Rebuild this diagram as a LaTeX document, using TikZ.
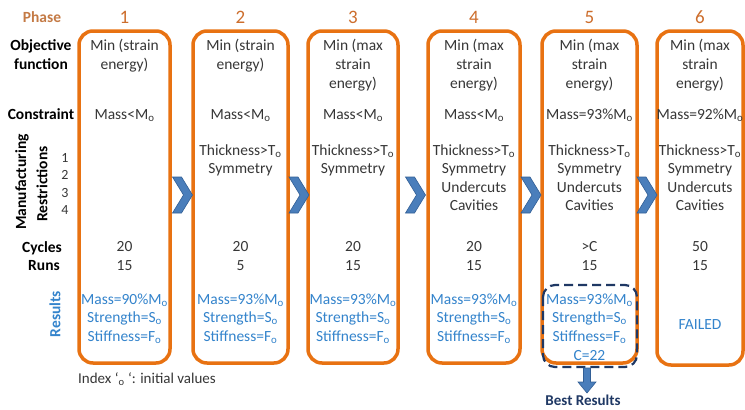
\documentclass[tikz,border=0pt]{standalone}
\usepackage{fontspec}
\setmainfont{Carlito}
\usetikzlibrary{calc}
\definecolor{boxorange}{RGB}{232,114,18}
\definecolor{phasebrown}{RGB}{196,122,69}
\definecolor{numorange}{RGB}{205,110,45}
\definecolor{txtgray}{RGB}{55,55,55}
\definecolor{resblue}{RGB}{52,132,204}
\definecolor{chevfill}{RGB}{74,126,187}
\definecolor{chevline}{RGB}{50,95,150}
\definecolor{navy}{RGB}{31,56,100}
\newcommand{\oidx}{\textsubscript{o}}
\begin{document}
\begin{tikzpicture}[x=1pt,y=-1pt,
  phasebox/.style={draw=boxorange, line width=3.5pt, rounded corners=14pt},
  cont/.style={font=\fontsize{15.5}{19}\selectfont, text=txtgray, align=center, inner sep=0pt, anchor=base},
  mfg/.style={font=\fontsize{15.5}{18.5}\selectfont, text=txtgray, align=center, inner sep=0pt, anchor=base},
  res/.style={font=\fontsize{15.5}{18.8}\selectfont, text=resblue, align=center, inner sep=0pt, anchor=base},
  rowlab/.style={font=\fontsize{15.5}{19}\selectfont\bfseries, text=black, align=center, inner sep=0pt, anchor=base},
  phnum/.style={font=\fontsize{19}{22}\selectfont, text=numorange, inner sep=0pt, anchor=base},
  chev/.pic={\filldraw[fill=chevfill, draw=chevline, line width=0.6pt]
     (-10,-18) -- (-1,-18) -- (10,0) -- (-1,18) -- (-10,18) -- (1,0) -- cycle;}
]
\useasboundingbox (0,0) rectangle (745,410);
\fill[white] (0,0) rectangle (745,410);

% phase header
\node[font=\fontsize{15.5}{19}\selectfont\bfseries, text=phasebrown, inner sep=0pt, anchor=base] (phase) at (42,22) {Phase};
\node[phnum] (n1) at (124.5,23) {1};
\node[phnum] (n2) at (240.5,23) {2};
\node[phnum] (n3) at (353,23) {3};
\node[phnum] (n4) at (474,23) {4};
\node[phnum] (n5) at (589.5,23) {5};
\node[phnum] (n6) at (700,23) {6};

% row labels (base anchor = baseline of last line)
\node[rowlab] (lobj) at (41,69) {Objective\\function};
\node[rowlab] (lcon) at (41,119) {Constraint};
\node[rowlab, rotate=90, anchor=center] (lman) at (22,182) {Manufacturing};
\node[rowlab, rotate=90, anchor=center] (lres) at (42,184) {Restrictions};
\node[font=\fontsize{14}{17.5}\selectfont, text=txtgray, align=center, inner sep=0pt, anchor=base] (lnum) at (65,214.5) {1\\2\\3\\4};
\node[rowlab] (lcyc) at (42,252) {Cycles};
\node[rowlab] (lrun) at (44,270) {Runs};
\node[rowlab, text=resblue, rotate=90, anchor=center] (lresu) at (55,314) {Results};

% boxes
\draw[phasebox] (79,31) rectangle (170,363);
\draw[phasebox] (193,31) rectangle (288,363);
\draw[phasebox] (308,31) rectangle (398,363);
\draw[phasebox] (428,31) rectangle (520,363);
\draw[phasebox] (542,31) rectangle (637,363);
\draw[phasebox] (657,31) rectangle (743,365);

% chevrons
\pic (c1) at (182.5,195) {chev};
\pic (c2) at (299,195) {chev};
\pic (c3) at (415.5,195) {chev};
\pic (c4) at (531,195) {chev};
\pic (c5) at (647,195) {chev};

% box 1
\node[cont] (o1) at (124.5,69) {Min (strain\\energy)};
\node[cont] (k1) at (124.5,119) {Mass<M\oidx};
\node[cont] (y1) at (124.5,251) {20};
\node[cont] (r1) at (124.5,270) {15};
\node[res] (e1) at (124.5,341.6) {Mass=90\%M\oidx\\Strength=S\oidx\\Stiffness=F\oidx};

% box 2
\node[cont] (o2) at (240.5,69) {Min (strain\\energy)};
\node[cont] (k2) at (240.5,119) {Mass<M\oidx};
\node[mfg] (m2) at (240.5,173.5) {Thickness>T\oidx\\Symmetry};
\node[cont] (y2) at (240.5,251) {20};
\node[cont] (r2) at (240.5,270) {5};
\node[res] (e2) at (240.5,341.6) {Mass=93\%M\oidx\\Strength=S\oidx\\Stiffness=F\oidx};

% box 3
\node[cont] (o3) at (353,88) {Min (max\\strain\\energy)};
\node[cont] (k3) at (353,119) {Mass<M\oidx};
\node[mfg] (m3) at (353,173.5) {Thickness>T\oidx\\Symmetry};
\node[cont] (y3) at (353,251) {20};
\node[cont] (r3) at (353,270) {15};
\node[res] (e3) at (353,341.6) {Mass=93\%M\oidx\\Strength=S\oidx\\Stiffness=F\oidx};

% box 4
\node[cont] (o4) at (474,88) {Min (max\\strain\\energy)};
\node[cont] (k4) at (474,119) {Mass<M\oidx};
\node[mfg] (m4) at (474,210.5) {Thickness>T\oidx\\Symmetry\\Undercuts\\Cavities};
\node[cont] (y4) at (474,251) {20};
\node[cont] (r4) at (474,270) {15};
\node[res] (e4) at (474,341.6) {Mass=93\%M\oidx\\Strength=S\oidx\\Stiffness=F\oidx};

% box 5
\node[cont] (o5) at (589.5,88) {Min (max\\strain\\energy)};
\node[cont] (k5) at (589.5,119) {Mass=93\%M\oidx};
\node[mfg] (m5) at (589.5,210.5) {Thickness>T\oidx\\Symmetry\\Undercuts\\Cavities};
\node[cont] (y5) at (589.5,251) {>C};
\node[cont] (r5) at (589.5,270) {15};
\node[res] (e5) at (589.5,360.4) {Mass=93\%M\oidx\\Strength=S\oidx\\Stiffness=F\oidx\\C=22};
\draw[navy, line width=2.2pt, dash pattern=on 9pt off 5pt, rounded corners=12pt] (543,285) rectangle (637,367);

% box 6
\node[cont] (o6) at (700,88) {Min (max\\strain\\energy)};
\node[cont] (k6) at (700,119) {Mass=92\%M\oidx};
\node[mfg] (m6) at (700,210.5) {Thickness>T\oidx\\Symmetry\\Undercuts\\Cavities};
\node[cont] (y6) at (700,251) {50};
\node[cont] (r6) at (700,270) {15};
\node[res] (f6) at (700,329) {FAILED};

% best results arrow
\node[font=\fontsize{15}{18}\selectfont\bfseries, text=navy, inner sep=0pt, anchor=base] (bestlab) at (583,405) {Best Results};
\coordinate (as) at (587,368);
\filldraw[fill=chevfill, draw=chevline, line width=0.6pt]
  ($(as)+(-3.5,0)$) -- ($(as)+(3.5,0)$) -- ($(as)+(3.5,14)$) -- ($(as)+(9,14)$)
  -- ($(as)+(0,25)$) -- ($(as)+(-9,14)$) -- ($(as)+(-3.5,14)$) -- cycle;

% footnote
\node[font=\fontsize{15}{18}\selectfont, text=txtgray, inner sep=0pt, anchor=base] (idx) at (147,383) {Index~‘\oidx~‘: initial values};
\end{tikzpicture}
\end{document}
